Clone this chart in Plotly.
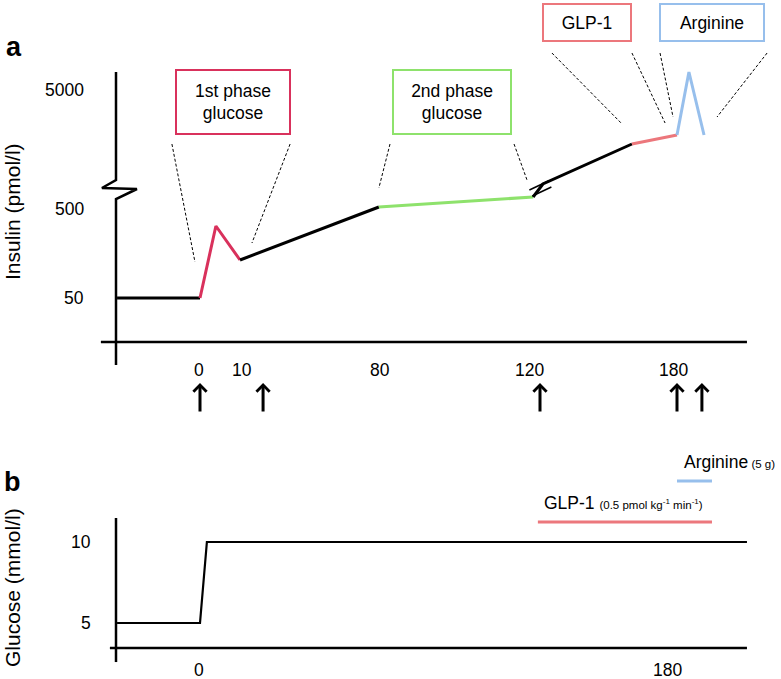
import plotly.graph_objects as go

# Schematic units: x = schematic time position (0 = glucose start, 180 = arginine bolus)
# panel a y = schematic insulin level (log-like, broken axis), panel b y = glucose (mmol/l)

FONT = "Liberation Sans, Arial, sans-serif"
C_FIRST = "#d9315c"
C_SECOND = "#8ee26c"
C_GLP = "#ec777c"
C_ARG = "#97bfec"

# --- panel a: insulin curve segments ---
basal_t = [-31.3, 0]
basal_ins = [4.4, 4.4]
first_t = [0, 6.0, 15.1]
first_ins = [4.4, 11.6, 8.2]
rise_t = [15.1, 67.5]
rise_ins = [8.2, 13.5]
second_t = [67.5, 125.7]
second_ins = [13.5, 14.5]
late_t = [125.7, 129.4, 163.0]
late_ins = [14.5, 15.8, 19.8]
glp_t = [163.0, 180.0]
glp_ins = [19.8, 20.7]
arg_t = [180.0, 184.5, 190.2]
arg_ins = [20.7, 27.0, 20.7]

# axis break marks on the curve
brk1_t = [124.3, 131.5]
brk1_ins = [15.2, 16.1]
brk2_t = [125.4, 132.6]
brk2_ins = [14.6, 15.5]

# broken insulin axis
yax_t = [-31.7, -31.7, -37.0, -23.8, -31.7, -31.7]
yax_ins = [27.0, 16.2, 15.4, 15.3, 14.3, -2.3]
xax_t = [-37.4, 206.4]
xax_ins = [0, 0]

ins_ticks = [4.4, 13.3, 25.2]
ins_ticktext = ["50", "500", "5000"]
time_ticks_a = [-0.4, 15.8, 67.9, 124.5, 178.5]
time_text_a = ["0", "10", "80", "120", "180"]
bolus_t = [0, 23.8, 128.3, 180.0, 189.4]

# callout boxes: (text, centre t, centre level, colour)
box_text = ["1st phase<br>glucose", "2nd phase<br>glucose", "GLP-1", "Arginine"]
box_t = [12.5, 95.1, 146.0, 193.2]
box_ins = [24.0, 24.0, 31.95, 31.95]
box_w = [112, 116, 86, 102]
box_h = [62, 62, 35, 35]
box_col = [C_FIRST, C_SECOND, C_GLP, C_ARG]

# dashed zoom-guides (start t, start level, end t, end level)
guide_t0 = [-10.6, 34.0, 71.7, 118.5, 132.8, 163.0, 173.6, 214.0]
guide_i0 = [19.8, 19.8, 19.8, 19.8, 28.9, 28.9, 28.9, 28.9]
guide_t1 = [-1.9, 19.6, 67.5, 123.4, 158.9, 175.5, 178.5, 195.1]
guide_i1 = [8.0, 9.9, 15.4, 16.2, 21.9, 21.9, 22.5, 22.5]

# --- panel b: glucose clamp ---
glu_t = [-31.3, 0, 2.6, 206.4]
glu_mmol = [5, 5, 10, 10]
glu_yax_t = [-31.7, -31.7]
glu_yax_mmol = [11.48, 2.59]
glu_xax_t = [-34.0, 206.4]
glu_xax_mmol = [3.457, 3.457]
glu_ticks = [5, 10]
time_ticks_b = [-0.4, 176.6]
time_text_b = ["0", "180"]
glp_inf_t = [127.5, 193.2]
glp_inf_mmol = [11.23, 11.23]
arg_inf_t = [180.0, 193.2]
arg_inf_mmol = [13.77, 13.77]

fig = go.Figure()


def seg(x, y, color, width=3, yaxis="y", dash=None):
    fig.add_trace(go.Scatter(
        x=x, y=y, mode="lines", yaxis=yaxis, hoverinfo="skip", showlegend=False,
        line=dict(color=color, width=width, dash=dash),
    ))


# guides first so the curve sits on top
for t0, i0, t1, i1 in zip(guide_t0, guide_i0, guide_t1, guide_i1):
    seg([t0, t1], [i0, i1], "black", width=1, dash="3px,2px")

seg(yax_t, yax_ins, "black", 2.5)
seg(xax_t, xax_ins, "black", 2.5)
seg(basal_t, basal_ins, "black")
seg(first_t, first_ins, C_FIRST)
seg(rise_t, rise_ins, "black")
seg(second_t, second_ins, C_SECOND)
seg(late_t, late_ins, "black")
seg(glp_t, glp_ins, C_GLP)
seg(arg_t, arg_ins, C_ARG)
seg(brk1_t, brk1_ins, "black", 1.5)
seg(brk2_t, brk2_ins, "black", 1.5)

seg(glu_yax_t, glu_yax_mmol, "black", 2.5, "y2")
seg(glu_xax_t, glu_xax_mmol, "black", 2.5, "y2")
seg(glu_t, glu_mmol, "black", 2.2, "y2")
seg(glp_inf_t, glp_inf_mmol, C_GLP, 3, "y2")
seg(arg_inf_t, arg_inf_mmol, C_ARG, 3, "y2")

ann = []
txt = dict(family=FONT, size=17.5, color="black")

for v, s in zip(ins_ticks, ins_ticktext):
    ann.append(dict(x=-43.0, y=v, text=s, showarrow=False, xanchor="right", font=txt))
for t, s in zip(time_ticks_a, time_text_a):
    ann.append(dict(x=t, y=-2.8, text=s, showarrow=False, font=txt))
for t in bolus_t:
    ann.append(dict(x=t, y=-4.1, ax=0, ay=30, text="", showarrow=True,
                    arrowhead=4, arrowsize=0.85, arrowwidth=3, arrowcolor="black"))
for s, t, v, w, h, c in zip(box_text, box_t, box_ins, box_w, box_h, box_col):
    ann.append(dict(x=t, y=v, text=s, showarrow=False, width=w, height=h,
                    bordercolor=c, borderwidth=2, borderpad=0, bgcolor="white",
                    font=txt))

for v in glu_ticks:
    ann.append(dict(x=-40.4, y=v, yref="y2", text=str(v), showarrow=False,
                    xanchor="right", font=txt))
for t, s in zip(time_ticks_b, time_text_b):
    ann.append(dict(x=t, y=2.1, yref="y2", text=s, showarrow=False, font=txt))
ann.append(dict(x=129.1, y=12.41, yref="y2", xanchor="left", showarrow=False, font=txt,
                text="GLP-1 <span style='font-size:11.5px'>(0.5 pmol kg<sup>-1</sup> min<sup>-1</sup>)</span>"))
ann.append(dict(x=181.9, y=14.94, yref="y2", xanchor="left", showarrow=False, font=txt,
                text="Arginine<span style='font-size:11.5px'> (5 g)</span>"))

# panel letters and axis titles
paper = dict(xref="paper", yref="paper", xanchor="center", yanchor="middle", showarrow=False)
ann.append(dict(paper, x=14 / 781, y=1 - 47 / 679, text="<b>a</b>",
                font=dict(family=FONT, size=27, color="black")))
ann.append(dict(paper, x=12 / 781, y=1 - 482 / 679, text="<b>b</b>",
                font=dict(family=FONT, size=27, color="black")))
ann.append(dict(paper, x=12 / 781, y=1 - 212 / 679, text="Insulin (pmol/l)", textangle=-90,
                font=dict(family=FONT, size=21, color="black")))
ann.append(dict(paper, x=12 / 781, y=1 - 588 / 679, text="Glucose (mmol/l)", textangle=-90,
                font=dict(family=FONT, size=21, color="black")))

fig.update_layout(
    width=781, height=679,
    margin=dict(l=0, r=0, t=0, b=0),
    plot_bgcolor="white", paper_bgcolor="white",
    xaxis=dict(range=[-200 / 2.65, 581 / 2.65], visible=False, fixedrange=True),
    yaxis=dict(range=[-33.7, 34.2], visible=False, fixedrange=True),
    yaxis2=dict(range=[1.543, 43.457], overlaying="y", visible=False, fixedrange=True),
    annotations=ann,
    showlegend=False,
)

fig.write_html("out.html", config={"displayModeBar": False},
               post_script="document.body.style.margin='0';")
